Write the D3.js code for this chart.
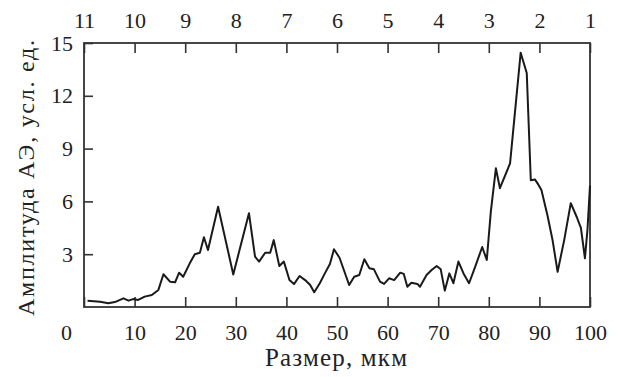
<!DOCTYPE html>
<html>
<head>
<meta charset="utf-8">
<script src="https://cdn.jsdelivr.net/npm/d3@7"></script>
<style>
  body { margin: 0; background: #fff; }
  text { font-family: "Liberation Serif", "Times New Roman", serif; fill: #222; }
</style>
</head>
<body>
<div id="chart"></div>
<script>
// размер частиц, мкм
const size = [0.7, 3.2, 4.8, 6.1, 7.8, 8.8, 9.7, 10.7, 12.0, 13.4, 14.7, 15.7, 17.0, 18.0, 18.8, 19.6,
    20.9, 21.9, 22.9, 23.7, 24.5, 26.5, 29.5, 32.6, 33.8, 34.6, 35.8, 36.8, 37.5, 38.6, 39.5,
    40.6, 41.5, 42.6, 43.7, 44.7, 45.5, 46.6, 47.6, 48.6, 49.4, 50.5, 52.4, 53.4, 54.4, 55.4,
    56.4, 57.3, 58.5, 59.3, 60.3, 61.3, 62.5, 63.2, 63.9, 64.7, 65.9, 66.4, 67.7, 68.7, 69.7,
    70.5, 71.3, 72.2, 73.0, 74.0, 75.0, 76.1, 77.3, 78.7, 79.6, 80.4, 81.4, 82.2, 84.2, 86.3,
    87.5, 88.3, 89.1, 89.8, 90.4, 91.6, 92.6, 93.6, 94.9, 96.2, 97.4, 98.2, 99.0, 99.5, 100]
// амплитуда АЭ
const amplitude = [0.36, 0.3, 0.21, 0.28, 0.49, 0.36, 0.45, 0.4, 0.59, 0.68, 0.97, 1.86, 1.44, 1.4, 1.95, 1.72,
    2.48, 3.0, 3.08, 3.96, 3.24, 5.7, 1.85, 5.33, 2.86, 2.58, 3.08, 3.08, 3.8, 2.33, 2.58,
    1.53, 1.3, 1.76, 1.53, 1.25, 0.84, 1.35, 1.91, 2.44, 3.28, 2.8, 1.25, 1.72, 1.82, 2.71,
    2.2, 2.14, 1.44, 1.31, 1.63, 1.53, 1.95, 1.88, 1.15, 1.38, 1.31, 1.15, 1.82, 2.1, 2.33,
    2.14, 0.93, 1.91, 1.35, 2.58, 1.91, 1.35, 2.28, 3.41, 2.67, 5.42, 7.88, 6.75, 8.16, 14.45,
    13.3, 7.2, 7.25, 6.95, 6.65, 5.2, 3.8, 2.0, 3.8, 5.9, 5.1, 4.5, 2.77, 4.4, 6.9]

const xTicks = [0, 10, 20, 30, 40, 50, 60, 70, 80, 90, 100]
const topLabels = ['11', '10', '9', '8', '7', '6', '5', '4', '3', '2', '1']
const yTicks = [3, 6, 9, 12, 15]

const W = 619, H = 377
const mLeft = 84, mRight = 590, mTop = 43, mBottom = 307

let svg = d3.select('#chart').append('svg')
    .attr('width', W)
    .attr('height', H)

const x = d3.scaleLinear().domain([0, 100]).range([mLeft, mRight])
const y = d3.scaleLinear().domain([0, 15]).range([mBottom, mTop])

const styleAxis = (g) => {
    g.select('.domain').remove()
    g.selectAll('line').attr('stroke', '#333').attr('stroke-width', 1.6)
    g.selectAll('text').attr('font-size', 22).attr('fill', '#222')
}

// нижняя ось
const gx = svg.append('g')
    .attr('transform', `translate(0,${mBottom})`)
    .call(d3.axisBottom(x).tickValues(xTicks).tickSizeInner(-10).tickSizeOuter(0).tickPadding(17))
    .call(styleAxis)
gx.selectAll('text').filter(d => d === 0).attr('dx', -18)

// верхняя ось
svg.append('g')
    .attr('transform', `translate(0,${mTop})`)
    .call(d3.axisTop(x).tickValues(xTicks).tickSizeInner(-10).tickSizeOuter(0).tickPadding(15)
        .tickFormat((d, i) => topLabels[i]))
    .call(styleAxis)

// левая ось
svg.append('g')
    .attr('transform', `translate(${mLeft},0)`)
    .call(d3.axisLeft(y).tickValues(yTicks).tickSizeInner(-9).tickSizeOuter(0).tickPadding(11))
    .call(styleAxis)

// рамка
svg.append('rect')
    .attr('x', mLeft).attr('y', mTop)
    .attr('width', mRight - mLeft).attr('height', mBottom - mTop)
    .attr('fill', 'none')
    .attr('stroke', '#333')
    .attr('stroke-width', 1.8)

const line = d3.line()
    .x((d, i) => x(size[i]))
    .y((d) => y(d))

svg.append('path')
    .datum(amplitude)
    .attr('d', line)
    .attr('fill', 'none')
    .attr('stroke', '#1a1a1a')
    .attr('stroke-width', 2)
    .attr('stroke-linejoin', 'round')

svg.append('text')
    .attr('x', 336)
    .attr('y', 366)
    .attr('text-anchor', 'middle')
    .attr('font-size', 25)
    .attr('textLength', 142)
    .attr('lengthAdjust', 'spacing')
    .text('Размер, мкм')

svg.append('text')
    .attr('transform', `translate(34,178) rotate(-90)`)
    .attr('text-anchor', 'middle')
    .attr('font-size', 24)
    .attr('textLength', 276)
    .attr('lengthAdjust', 'spacing')
    .text('Амплитуда АЭ, усл. ед.')
</script>
</body>
</html>
